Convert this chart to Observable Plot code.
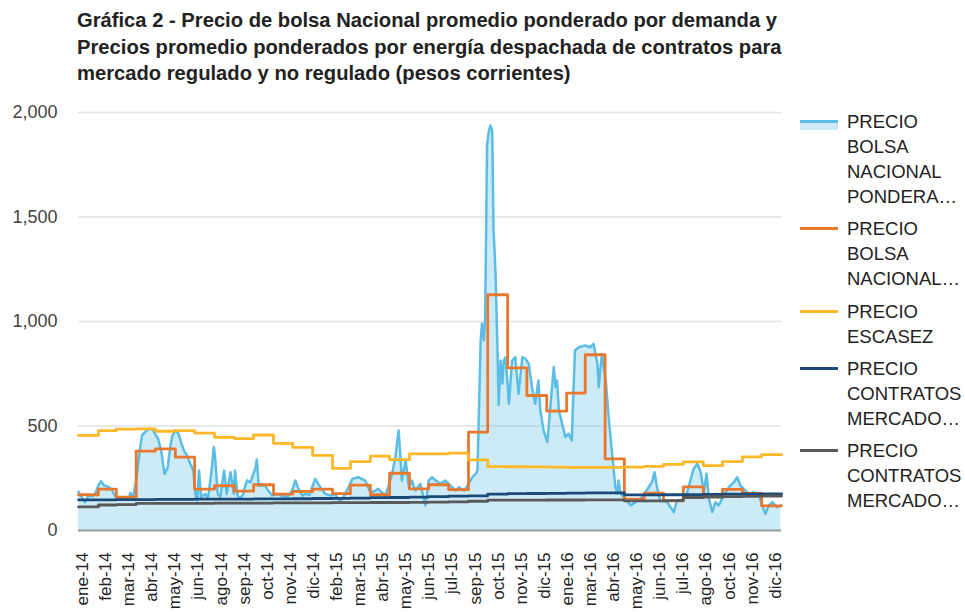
<!DOCTYPE html>
<html><head><meta charset="utf-8">
<script src="https://cdn.jsdelivr.net/npm/d3@7"></script>
<script src="https://cdn.jsdelivr.net/npm/@observablehq/plot@0.6"></script>
<style>
body{margin:0;background:#fff;font-family:"Liberation Sans",Arial,sans-serif;}
#wrap{position:relative;width:965px;height:612px;overflow:hidden;}
#title{position:absolute;left:77px;top:7px;font-weight:bold;font-size:20.2px;line-height:26.5px;color:#222;white-space:nowrap;}
#chart{position:absolute;left:0;top:95px;}
#legend{position:absolute;left:800px;top:109px;}
.entry{position:relative;padding-left:47px;font-size:18.5px;line-height:25px;color:#222;margin-bottom:7.3px;}
.icon{position:absolute;left:0;top:11px;width:38px;height:3px;}
.icon.area::after{content:"";position:absolute;left:0;top:3px;width:38px;height:7px;background:rgba(91,189,230,0.3);}
</style></head>
<body><div id="wrap">
<div id="title">Gráfica 2 - Precio de bolsa Nacional promedio ponderado por demanda y<br>Precios promedio ponderados por energía despachada de contratos para<br>mercado regulado y no regulado (pesos corrientes)</div>
<div id="chart"></div>
<div id="legend"></div>
</div>
<script>
// Series names and colours
const series = [
  {name: "PRECIO<br>BOLSA<br>NACIONAL<br>PONDERA…", color: "#5bbde6", area: true},
  {name: "PRECIO<br>BOLSA<br>NACIONAL…", color: "#e8782e"},
  {name: "PRECIO<br>ESCASEZ", color: "#fdb827"},
  {name: "PRECIO<br>CONTRATOS<br>MERCADO…", color: "#1b4a78"},
  {name: "PRECIO<br>CONTRATOS<br>MERCADO…", color: "#595959"}
];

const bolsaDiaria = [
["2014-01-01",185],["2014-01-06",160],["2014-01-11",135],["2014-01-16",165],["2014-01-23",165],["2014-01-27",175],
["2014-02-01",215],["2014-02-05",235],["2014-02-10",215],["2014-02-16",210],["2014-02-21",200],["2014-02-26",170],
["2014-03-01",155],["2014-03-07",150],["2014-03-13",160],["2014-03-20",150],["2014-03-23",180],["2014-03-27",160],
["2014-04-01",240],["2014-04-06",370],["2014-04-10",455],["2014-04-17",478],["2014-04-21",486],["2014-04-26",487],
["2014-05-01",460],["2014-05-05",440],["2014-05-10",380],["2014-05-15",271],["2014-05-20",300],["2014-05-24",400],["2014-05-27",450],
["2014-06-01",479],["2014-06-06",462],["2014-06-10",420],["2014-06-15",378],["2014-06-20",355],["2014-06-24",320],["2014-06-29",287],
["2014-07-02",175],["2014-07-05",143],["2014-07-08",287],["2014-07-11",160],["2014-07-18",175],["2014-07-22",151],["2014-07-28",303],["2014-07-31",399],
["2014-08-02",350],["2014-08-06",175],["2014-08-10",160],["2014-08-16",287],["2014-08-20",175],["2014-08-26",279],["2014-08-31",175],
["2014-09-02",287],["2014-09-06",167],["2014-09-10",151],["2014-09-15",175],["2014-09-18",215],["2014-09-21",240],["2014-09-26",230],
["2014-10-04",300],["2014-10-06",340],["2014-10-09",215],["2014-10-11",215],["2014-10-19",215],["2014-10-24",190],["2014-10-30",167],
["2014-11-07",175],["2014-11-15",165],["2014-11-23",160],["2014-11-30",191],
["2014-12-05",239],["2014-12-10",199],["2014-12-16",167],["2014-12-22",175],["2014-12-27",170],
["2015-01-05",247],["2015-01-13",207],["2015-01-21",175],["2015-01-30",167],
["2015-02-05",175],["2015-02-13",135],["2015-02-21",175],
["2015-03-04",247],["2015-03-13",255],["2015-03-24",239],
["2015-04-01",183],["2015-04-09",190],["2015-04-13",200],["2015-04-24",167],["2015-04-29",207],
["2015-05-05",271],["2015-05-10",350],["2015-05-15",478],["2015-05-18",350],["2015-05-20",239],["2015-05-26",335],["2015-05-31",207],
["2015-06-05",239],["2015-06-10",191],["2015-06-18",223],["2015-06-26",120],
["2015-07-01",239],["2015-07-06",255],["2015-07-12",239],["2015-07-19",223],["2015-07-27",239],
["2015-08-04",215],["2015-08-12",191],["2015-08-17",207],["2015-08-25",191],
["2015-09-01",223],["2015-09-07",255],["2015-09-12",270],["2015-09-15",287],["2015-09-20",909],["2015-09-22",989],["2015-09-25",909],["2015-09-27",1021],["2015-09-30",1850],
["2015-10-03",1914],["2015-10-05",1938],["2015-10-08",1914],["2015-10-10",1450],["2015-10-13",1244],["2015-10-16",893],["2015-10-18",600],["2015-10-21",813],["2015-10-24",702],["2015-10-26",813],["2015-10-29",829],
["2015-11-03",606],["2015-11-08",813],["2015-11-13",829],["2015-11-18",654],["2015-11-24",829],["2015-11-29",821],
["2015-12-04",797],["2015-12-09",686],["2015-12-14",606],["2015-12-19",718],["2015-12-22",574],["2015-12-27",479],
["2016-01-02",423],["2016-01-07",606],["2016-01-12",782],["2016-01-15",686],["2016-01-17",718],["2016-01-20",574],["2016-01-25",510],["2016-01-30",447],
["2016-02-04",463],["2016-02-09",431],["2016-02-12",700],["2016-02-14",861],["2016-02-20",877],
["2016-03-01",885],["2016-03-09",877],["2016-03-14",893],["2016-03-20",798],["2016-03-22",686],["2016-03-27",845],
["2016-04-02",718],["2016-04-07",526],["2016-04-12",367],["2016-04-17",207],["2016-04-20",176],["2016-04-22",239],["2016-04-25",176],["2016-04-30",160],
["2016-05-11",120],["2016-05-19",136],["2016-05-29",160],
["2016-06-08",207],["2016-06-13",231],["2016-06-17",279],["2016-06-21",207],["2016-06-26",143],
["2016-07-07",135],["2016-07-17",88],["2016-07-22",143],
["2016-08-02",151],["2016-08-07",183],["2016-08-12",239],["2016-08-17",295],["2016-08-23",319],["2016-08-28",279],
["2016-09-02",183],["2016-09-06",271],["2016-09-10",151],["2016-09-15",88],["2016-09-20",135],["2016-09-25",120],
["2016-10-03",167],["2016-10-11",207],["2016-10-19",231],["2016-10-24",255],["2016-10-29",215],
["2016-11-03",199],["2016-11-11",175],["2016-11-19",183],["2016-11-27",167],
["2016-12-02",120],["2016-12-07",80],["2016-12-12",120],["2016-12-18",135],["2016-12-25",112],["2016-12-31",120]
];

// Monthly series, ene-14 .. dic-16 (36 values each)
const bolsaMensual = [171,198,159,380,391,351,198,214,188,219,174,187,
                      198,176,217,171,274,199,219,196,471,1128,778,646,
                      571,657,841,343,150,179,142,209,171,197,178,118];
const precioEscasez = [455,478,485,486,475,478,466,446,440,457,417,398,
                       359,297,330,356,339,367,367,370,338,306,305,304,
                       303,302,302,302,303,307,316,328,310,330,352,363];
const contratosRegulado = [147,147,148,148,149,149,150,150,150,151,151,152,
                           153,154,155,157,158,160,162,164,166,174,176,177,
                           178,179,180,180,170,170,171,172,173,174,175,175];
const contratosNoRegulado = [113,122,124,130,130,130,130,131,131,131,132,132,
                             132,133,133,134,134,135,136,137,140,145,145,145,
                             146,146,147,147,142,142,143,158,160,162,163,165];

// X tick dates and labels
const tickFechas = ["2014-01-01","2014-02-06","2014-03-14","2014-04-19","2014-05-25","2014-06-30","2014-08-05","2014-09-10","2014-10-16","2014-11-21","2014-12-27",
  "2015-02-01","2015-03-09","2015-04-14","2015-05-20","2015-06-25","2015-07-31","2015-09-05","2015-10-11","2015-11-16","2015-12-22",
  "2016-01-27","2016-03-03","2016-04-08","2016-05-14","2016-06-19","2016-07-25","2016-08-30","2016-10-05","2016-11-10","2016-12-16"];
const tickEtiquetas = ["ene-14","feb-14","mar-14","abr-14","may-14","jun-14","ago-14","sep-14","oct-14","nov-14","dic-14",
  "feb-15","mar-15","abr-15","may-15","jun-15","jul-15","sep-15","oct-15","nov-15","dic-15",
  "ene-16","mar-16","abr-16","may-16","jun-16","jul-16","ago-16","oct-16","nov-16","dic-16"];
const yTicks = [0, 500, 1000, 1500, 2000];

const inicio = new Date("2014-01-01"), fin = new Date("2017-01-01");
const meses = d3.utcMonth.range(inicio, fin);
const monthly = vals => {
  const rows = vals.map((v, i) => ({fecha: meses[i], valor: v}));
  rows.push({fecha: fin, valor: vals[vals.length - 1]});
  return rows;
};
const daily = bolsaDiaria.map(([f, v]) => ({fecha: new Date(f), valor: v}));
const ticks = tickFechas.map(f => new Date(f));
const labelMap = new Map(ticks.map((d, i) => [+d, tickEtiquetas[i]]));

const chart = Plot.plot({
  width: 790, height: 517,
  marginLeft: 78, marginRight: 9, marginTop: 17, marginBottom: 82,
  style: {fontFamily: "'Liberation Sans', Arial, sans-serif", color: "#444", background: "transparent", overflow: "visible"},
  x: {type: "utc", domain: [inicio, fin]},
  y: {domain: [0, 2000]},
  marks: [
    Plot.ruleY([500, 1000, 1500, 2000], {stroke: "#e2e2e2", strokeWidth: 1.5}),
    Plot.areaY(daily, {x: "fecha", y: "valor", fill: series[0].color, fillOpacity: 0.3}),
    Plot.ruleY([0], {stroke: "#9a9a9a", strokeWidth: 2}),
    Plot.line(daily, {x: "fecha", y: "valor", stroke: series[0].color, strokeWidth: 2.5}),
    Plot.line(monthly(bolsaMensual), {x: "fecha", y: "valor", curve: "step-after", stroke: series[1].color, strokeWidth: 2.8}),
    Plot.line(monthly(precioEscasez), {x: "fecha", y: "valor", curve: "step-after", stroke: series[2].color, strokeWidth: 2.8}),
    Plot.line(monthly(contratosRegulado), {x: "fecha", y: "valor", curve: "step-after", stroke: series[3].color, strokeWidth: 2.8}),
    Plot.line(monthly(contratosNoRegulado), {x: "fecha", y: "valor", curve: "step-after", stroke: series[4].color, strokeWidth: 2.8}),
    Plot.axisY({ticks: yTicks, tickSize: 0, tickPadding: 21, tickFormat: d3.format(","), fontSize: 18, label: null}),
    Plot.axisX({ticks: ticks, tickFormat: d => labelMap.get(+d), tickRotate: -90, tickSize: 0, tickPadding: 22, dx: 4, fontSize: 17, label: null, fill: "#222"})
  ]
});
document.getElementById("chart").appendChild(chart);

const legend = document.getElementById("legend");
series.forEach(s => {
  const e = document.createElement("div");
  e.className = "entry";
  e.innerHTML = `<span class="icon${s.area ? " area" : ""}" style="background:${s.color}"></span>${s.name}`;
  legend.appendChild(e);
});
</script>
</body></html>
